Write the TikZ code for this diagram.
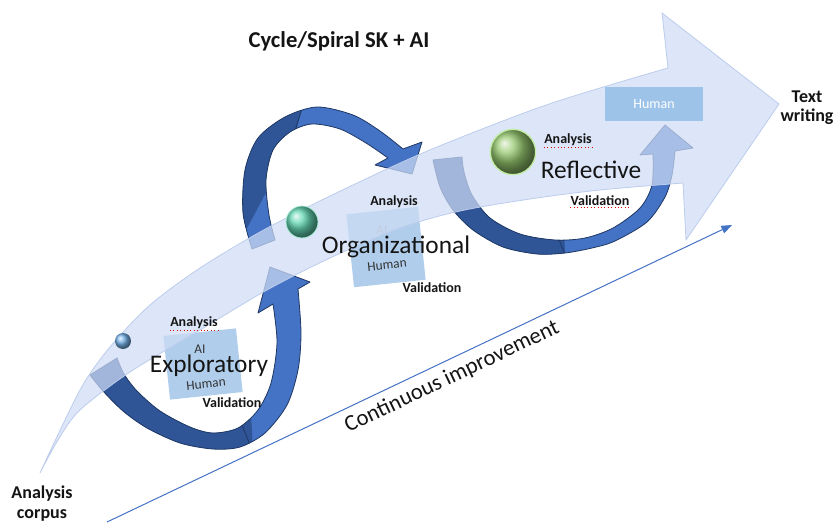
\documentclass[tikz,border=0pt]{standalone}
\usepackage{fontspec}
\setmainfont{Carlito}
\usetikzlibrary{arrows.meta,shapes.geometric}
\definecolor{rdark}{RGB}{47,85,151}
\definecolor{rmed}{RGB}{68,114,196}
\definecolor{rline}{RGB}{31,56,100}
\definecolor{bandfill}{RGB}{206,220,245}
\definecolor{bandline}{RGB}{188,204,236}
\definecolor{boxfill}{RGB}{150,190,230}
\definecolor{hboxfill}{RGB}{157,195,232}
\definecolor{ciblue}{RGB}{68,114,196}
\definecolor{aigray}{RGB}{165,165,165}
\definecolor{txt}{RGB}{20,20,20}
\tikzset{
  ribline/.style={draw=rline,line width=0.6pt,line join=round},
  bandstyle/.style={fill=bandfill,fill opacity=0.72,draw=bandline,line width=0.6pt},
  phasebox/.style={fill=boxfill,fill opacity=0.75,draw=none,inner sep=0pt},
  biglbl/.style={font=\fontsize{19}{23}\selectfont,text=txt,anchor=base,inner sep=0pt},
  smallbold/.style={font=\fontsize{10.5}{12}\selectfont\bfseries,text=txt,anchor=base,inner sep=0pt},
  boxtxt/.style={font=\fontsize{10}{12}\selectfont,text=black!80,inner sep=0pt},
  sidelbl/.style={font=\fontsize{13.5}{16}\selectfont\bfseries,text=txt,anchor=base,inner sep=0pt},
  sphere/.style={circle,inner sep=0pt,shading=ball},
  squiggle/.style={red!85!black,dotted,line width=0.55pt}
}
\def\loopA{plot[smooth] coordinates {(90,375) (103,391) (123,411) (147,428) (180,443) (213,449) (240,447) (265,433) (287,405) (298,370) (301,333) (298,289)}
  -- (310,282) -- (270,267) -- (258,313)
  -- plot[smooth] coordinates {(273,304) (277,343) (271,383) (258,410) (238,428) (213,433) (190,427) (160,411) (137,391) (124,374) (117,358)} -- cycle}
\def\loopB{plot[smooth] coordinates {(252,249) (243,213) (245,170) (258,138) (285,117) (317,107) (353,115) (380,131) (403,149)}
  -- (422,142) -- (412,174) -- (375,165)
  -- plot[smooth] coordinates {(388,158) (366,143) (340,129) (312,124) (290,132) (273,150) (266,180) (269,215) (275,240)} -- cycle}
\def\loopC{plot[smooth] coordinates {(433,160) (440,187) (453,210) (473,230) (503,247) (537,254) (565,253) (592,248) (615,241) (647,222) (665,197) (672,175) (675,151)}
  -- (693,148) -- (665,125) -- (640,155)
  -- plot[smooth] coordinates {(653,154) (652,185) (640,208) (613,228) (585,238) (555,240) (520,234) (490,218) (472,195) (464,172) (462,157)} -- cycle}
\begin{document}
\begin{tikzpicture}[x=0.75pt,y=-0.75pt]
\useasboundingbox (0,0) rectangle (834,524);

% ---------- ribbons (loops) ----------
% loop 1 (Exploratory)
\fill[rmed] \loopA;
\begin{scope}
  \clip \loopA;
  \fill[rdark] (40,320) -- (246,320) -- (254,470) -- (40,470) -- cycle;
  \draw[rline,line width=0.6pt] (240,420) -- (256,460);
\end{scope}
\path[ribline] \loopA;
% loop 2 (Organizational)
\fill[rmed] \loopB;
\begin{scope}
  \clip \loopB;
  \fill[rdark] (230,90) -- (306,90) -- (294,140) -- (230,260) -- cycle;
  \draw[rline,line width=0.6pt] (306,96) -- (294,134);
\end{scope}
\path[ribline] \loopB;
% loop 3 (Reflective)
\fill[rmed] \loopC;
\begin{scope}
  \clip \loopC;
  \fill[rdark] (420,150) -- (560,150) -- (566,270) -- (420,270) -- cycle;
  \draw[rline,line width=0.6pt] (556,232) -- (568,262);
\end{scope}
\path[ribline] \loopC;

% ---------- phase boxes ----------
\node[phasebox,rotate=6,minimum width=54.75pt,minimum height=48pt] (exbox) at (203,364) {};
\node[phasebox,rotate=6,minimum width=54pt,minimum height=55pt] (orbox) at (386,247) {};
\node[boxtxt] (exai) at (200,349) {AI};
\node[boxtxt,rotate=6] (exhum) at (206,384) {Human};
\node[boxtxt,text=aigray] (orai) at (382,230) {AI};
\node[boxtxt,rotate=6] (orhum) at (387,265) {Human};

% ---------- main curved arrow (band) ----------
\path[bandstyle] plot[smooth] coordinates {(40,473) (80,390) (110,347) (150,305) (200,268) (260,232) (330,196) (425,152) (532,110) (600,88) (668,68)}
  -- (662,13) -- (779,104) -- (686,240)
  -- plot[smooth] coordinates {(683,183) (600,190) (530,199) (460,211) (400,228) (330,258) (267,290) (200,330) (130,372) (80,410) (58,440) (40,473)} -- cycle;

% ---------- spheres ----------
\node[sphere,ball color={rgb,255:red,120;green,180;blue,235},minimum size=12pt] (s1) at (123,341) {};
\node[sphere,ball color={rgb,255:red,100;green,215;blue,180},minimum size=24pt,draw={rgb,255:red,170;green,235;blue,215},line width=0.6pt] (s2) at (302,222) {};
\node[sphere,ball color={rgb,255:red,150;green,200;blue,110},minimum size=34pt,draw={rgb,255:red,195;green,238;blue,165},line width=1pt] (s3) at (513,152) {};

% ---------- Human box top right ----------
\node[fill=hboxfill,minimum width=73.5pt,minimum height=25.5pt,inner sep=0pt,text=white,font=\fontsize{10.5}{12}\selectfont] (hbox) at (654,104) {Human};

% ---------- continuous improvement ----------
\coordinate (ciS) at (107,522);
\coordinate (ciE) at (732,225);
\draw[ciblue,line width=0.75pt,-{Triangle[length=8pt,width=6pt]}] (ciS) -- (ciE);
\node[font=\fontsize{17}{20}\selectfont,text=txt,rotate=25.5,inner sep=0pt] (cilab) at (452,377) {Continuous improvement};

% ---------- labels ----------
\node[font=\fontsize{17}{20}\selectfont\bfseries,text=txt,anchor=base,inner sep=0pt] (title) at (339,48) {Cycle/Spiral SK + AI};
\node[sidelbl] (tw1) at (807,103) {Text};
\node[sidelbl] (tw2) at (807,122) {writing};
\node[sidelbl] (ac1) at (42,498) {Analysis};
\node[sidelbl] (ac2) at (42,518) {corpus};

\node[smallbold] (exana) at (194,326) {Analysis};
\node[biglbl] (exlab) at (209,372) {Exploratory};
\node[smallbold] (exval) at (232,407) {Validation};

\node[smallbold] (orana) at (394,205) {Analysis};
\node[biglbl] (orlab) at (396,253) {Organizational};
\node[smallbold] (orval) at (432,292) {Validation};

\node[smallbold] (reana) at (568,143) {Analysis};
\node[biglbl] (relab) at (591,178) {Reflective};
\node[smallbold] (reval) at (600,205) {Validation};

% spell-check squiggles
\draw[squiggle] ([yshift=-3pt]exana.base west) -- ([yshift=-3pt]exana.base east);
\draw[squiggle] ([yshift=-3pt]reana.base west) -- ([yshift=-3pt]reana.base east);
\draw[squiggle] ([yshift=-2pt]reval.base west) -- ([yshift=-2pt]reval.base east);
\end{tikzpicture}
\end{document}
